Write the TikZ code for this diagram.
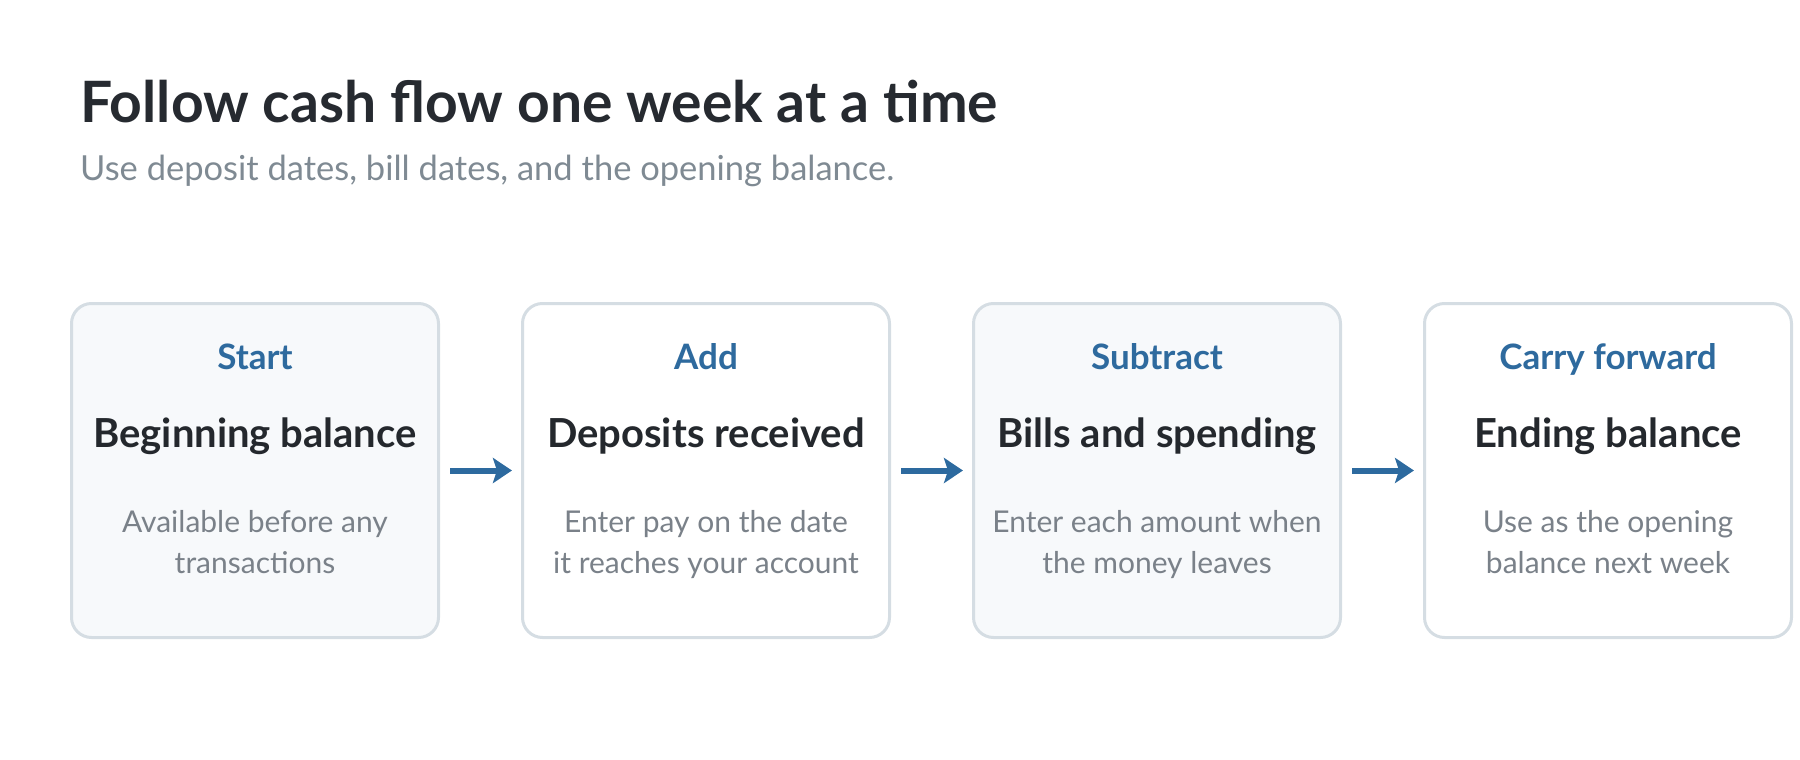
\documentclass[tikz,border=0pt]{standalone}
\usepackage{fontspec}
\setmainfont{Lato}
\usetikzlibrary{arrows.meta}
\definecolor{titlegray}{HTML}{262A30}
\definecolor{subgray}{HTML}{7F8A93}
\definecolor{stepblue}{HTML}{2E6A9E}
\definecolor{headdark}{HTML}{24282D}
\definecolor{descgray}{HTML}{7A8189}
\definecolor{boxline}{HTML}{D5DDE3}
\definecolor{boxshade}{HTML}{F7F9FB}
\definecolor{flowblue}{HTML}{2D6A9F}
\tikzset{
	box/.style={draw=boxline,line width=3pt,rounded corners=20pt,minimum width=367pt,minimum height=334pt,inner sep=0pt},
	steplbl/.style={anchor=base,inner sep=0pt,text=stepblue,font=\fontsize{35}{40}\selectfont\bfseries},
	headlbl/.style={anchor=base,inner sep=0pt,text=headdark,font=\fontsize{40}{46}\selectfont\bfseries},
	desclbl/.style={anchor=base,inner sep=0pt,text=descgray,font=\fontsize{30}{34}\selectfont},
	flow/.style={draw=flowblue,line width=6pt,-{Stealth[length=19pt,width=25pt,inset=4pt]}}
}

\begin{document}
\begin{tikzpicture}[x=1pt,y=-1pt]
	\useasboundingbox (0,0) rectangle (1800,760);
	%title
	\node[anchor=base west,inner sep=0pt,text=titlegray,font=\fontsize{57}{64}\selectfont\bfseries] (title) at (80,122) {Follow cash flow one week at a time};
	\node[anchor=base west,inner sep=0pt,text=subgray,font=\fontsize{34.5}{40}\selectfont] (subtitle) at (80,180) {Use deposit dates, bill dates, and the opening balance.};
	%boxes
	\foreach \i/\x/\fc/\lbl/\head/\da/\db in {
		1/255/boxshade/Start/Beginning balance/Available before any/transactions,
		2/706/white/Add/Deposits received/Enter pay on the date/it reaches your account,
		3/1157/boxshade/Subtract/Bills and spending/Enter each amount when/the money leaves,
		4/1608/white/Carry forward/Ending balance/Use as the opening/balance next week}
	{
		\node[box,fill=\fc] (box\i) at (\x,470.5) {};
		\node[steplbl] (lbl\i) at (\x,369) {\lbl};
		\node[headlbl] (head\i) at (\x,447) {\head};
		\node[desclbl] (desca\i) at (\x,532) {\da};
		\node[desclbl] (descb\i) at (\x,573) {\db};
	}
	%arrows
	\foreach \i/\j in {1/2,2/3,3/4}
	\draw[flow] ([xshift=10pt]box\i.east) -- ([xshift=-9pt]box\j.west);
\end{tikzpicture}
\end{document}
